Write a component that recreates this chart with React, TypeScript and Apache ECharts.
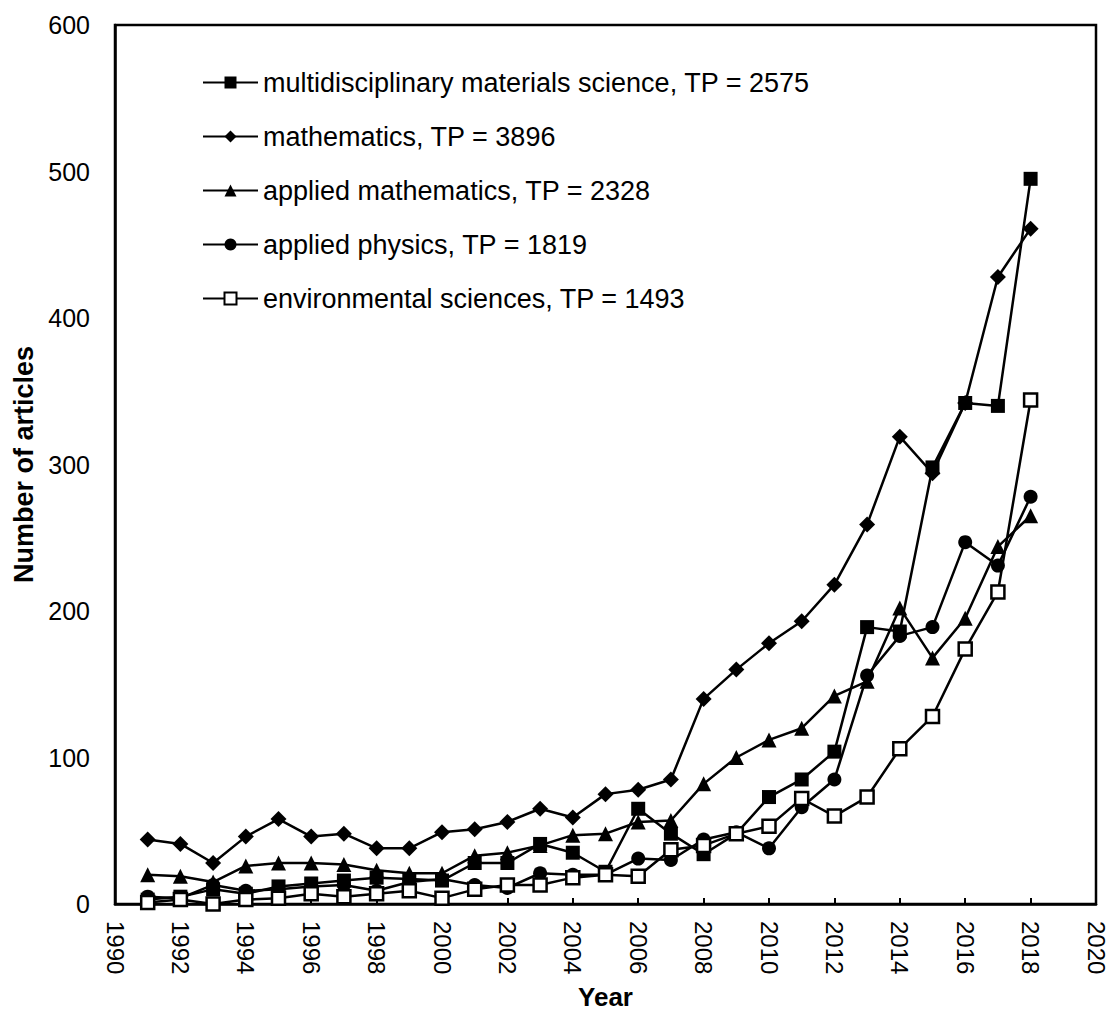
import React, { useEffect, useRef } from "react";
import * as echarts from "echarts";

const years = [1991,1992,1993,1994,1995,1996,1997,1998,1999,2000,2001,2002,2003,2004,2005,2006,2007,2008,2009,2010,2011,2012,2013,2014,2015,2016,2017,2018];

const materials = [3, 5, 10, 7, 12, 14, 16, 18, 17, 16, 28, 28, 41, 35, 22, 65, 48, 34, 48, 73, 85, 104, 189, 186, 298, 342, 340, 495];
const mathematics = [44, 41, 28, 46, 58, 46, 48, 38, 38, 49, 51, 56, 65, 59, 75, 78, 85, 140, 160, 178, 193, 218, 259, 319, 294, 342, 428, 461];
const appliedMath = [20, 19, 15, 26, 28, 28, 27, 23, 21, 21, 33, 35, 40, 47, 48, 56, 57, 82, 100, 112, 120, 142, 152, 202, 168, 195, 244, 265];
const appliedPhysics = [5, 4, 13, 9, 10, 12, 13, 9, 15, 17, 13, 11, 21, 20, 20, 31, 30, 44, 49, 38, 66, 85, 156, 183, 189, 247, 231, 278];
const environmental = [1, 3, 0, 3, 4, 7, 5, 7, 9, 4, 10, 13, 13, 18, 20, 19, 37, 40, 48, 53, 72, 60, 73, 106, 128, 174, 213, 344];

const seriesNames = [
  "multidisciplinary materials science, TP = 2575",
  "mathematics, TP = 3896",
  "applied mathematics, TP = 2328",
  "applied physics, TP = 1819",
  "environmental sciences, TP = 1493",
];

const FONT = "'Liberation Sans', Arial, sans-serif";

export default function App() {
  const ref = useRef<HTMLDivElement>(null);
  useEffect(() => {
    if (!ref.current) return;
    const chart = echarts.init(ref.current, null, { renderer: "svg" });
    const pair = (vals: number[]) => years.map((y, i) => [y, vals[i]]);
    const mk = (name: string, vals: number[], symbol: string, size: number, open = false) => ({
      name,
      type: "line",
      data: pair(vals),
      symbol,
      symbolSize: size,
      showAllSymbol: true,
      lineStyle: { color: "#000", width: 2.5 },
      itemStyle: open
        ? { color: "#fff", borderColor: "#000", borderWidth: 2.5 }
        : { color: "#000", borderColor: "#000", borderWidth: 0 },
      emphasis: { disabled: true },
    });
    chart.setOption({
      animation: false,
      backgroundColor: "#fff",
      textStyle: { fontFamily: FONT },
      grid: {
        left: 115,
        top: 25,
        width: 981,
        height: 879,
        containLabel: false,
        outerBoundsMode: "none",
      },
      legend: {
        orient: "vertical",
        left: 197,
        top: 64,
        itemWidth: 55,
        itemHeight: 15,
        itemGap: 27,
        data: seriesNames,
        textStyle: { fontSize: 27, color: "#000", fontFamily: FONT, lineHeight: 27 },
        selectedMode: false,
      },
      xAxis: {
        type: "value",
        min: 1990,
        max: 2020,
        interval: 2,
        name: "Year",
        nameLocation: "middle",
        nameGap: 80,
        nameTextStyle: { fontSize: 26, fontWeight: "bold", color: "#000", fontFamily: FONT, lineHeight: 26 },
        axisLine: { show: true, lineStyle: { color: "#000", width: 2.5 } },
        axisTick: { show: true, inside: true, length: 6, lineStyle: { color: "#000", width: 2 } },
        axisLabel: {
          rotate: -90,
          fontSize: 24,
          color: "#000",
          margin: 17,
          fontFamily: FONT,
          formatter: (v: number) => String(v),
        },
        splitLine: { show: false },
      },
      yAxis: {
        type: "value",
        min: 0,
        max: 600,
        interval: 100,
        name: "Number of articles",
        nameLocation: "middle",
        nameGap: 76,
        nameRotate: 90,
        nameTextStyle: { fontSize: 27, fontWeight: "bold", color: "#000", fontFamily: FONT },
        axisLine: { show: true, lineStyle: { color: "#000", width: 2.5 } },
        axisTick: { show: false },
        axisLabel: { fontSize: 25, color: "#000", margin: 25, fontFamily: FONT },
        splitLine: { show: false },
      },
      graphic: [
        {
          type: "rect",
          shape: { x: 115, y: 25, width: 981, height: 879 },
          style: { fill: "none", stroke: "#000", lineWidth: 2.5 },
          silent: true,
          z: 0,
        },
      ],
      series: [
        mk(seriesNames[0], materials, "rect", 14),
        mk(seriesNames[1], mathematics, "diamond", 16),
        mk(seriesNames[2], appliedMath, "triangle", 15),
        mk(seriesNames[3], appliedPhysics, "circle", 14),
        mk(seriesNames[4], environmental, "rect", 13, true),
      ],
    });
    return () => chart.dispose();
  }, []);
  return (
    <div
      ref={ref}
      style={{ position: "absolute", left: 0, top: 0, width: 1108, height: 1013 }}
    />
  );
}
